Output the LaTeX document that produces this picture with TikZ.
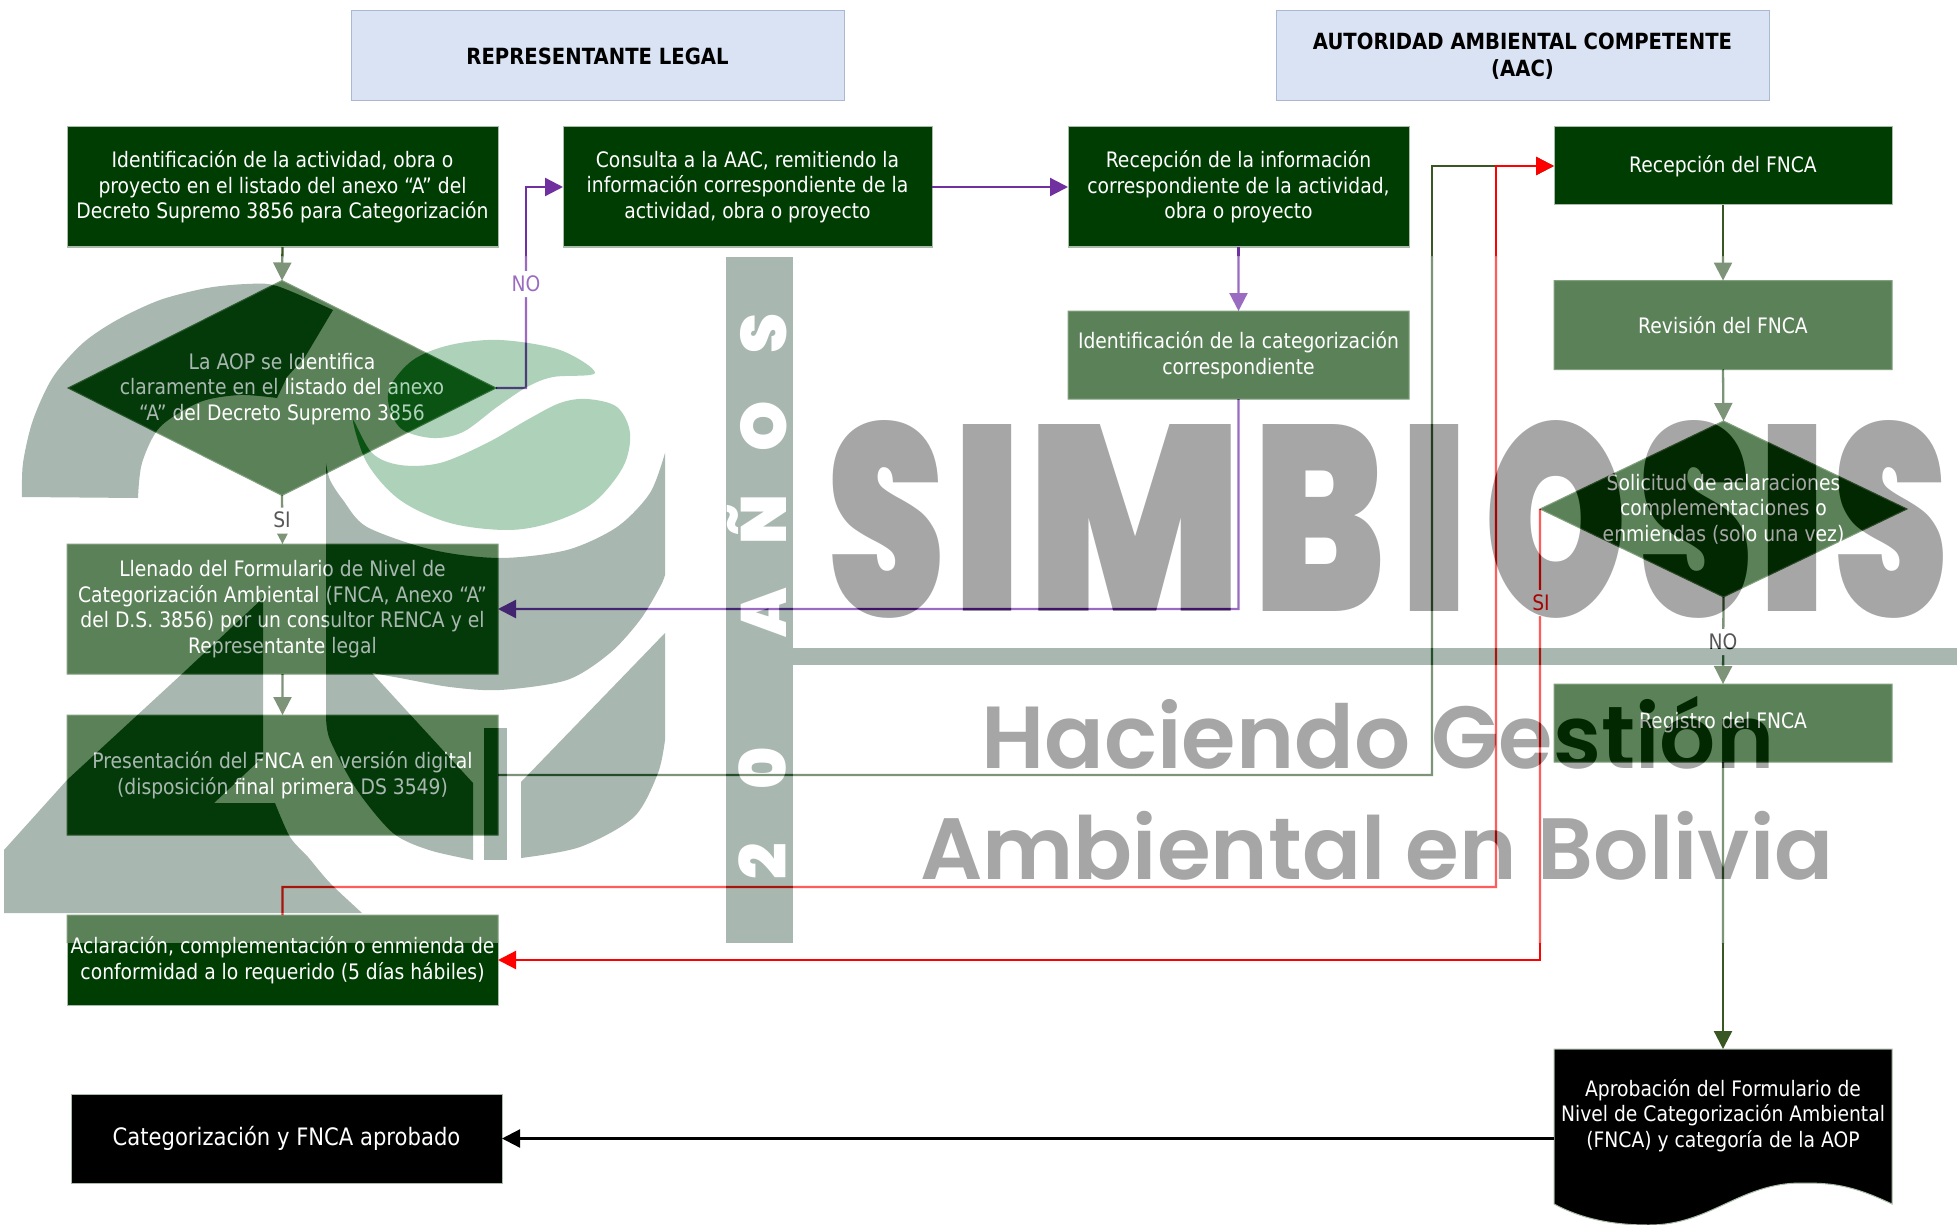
\documentclass[tikz,border=0pt]{standalone}
\usepackage{fontspec}
\usepackage{graphicx}
\usetikzlibrary{shapes.geometric,arrows.meta,calc}
\setmainfont{DejaVu Sans}[FakeStretch=0.88]
\newfontfamily\wmfont{Poppins}[UprightFont=* Black]
\newfontfamily\hgfont{Poppins}[UprightFont=* SemiBold]
\definecolor{hdrfill}{HTML}{DAE3F3}
\definecolor{hdrline}{HTML}{ABB8D2}
\definecolor{darkbox}{HTML}{003D03}
\definecolor{darkline}{HTML}{A9BBA9}
\definecolor{invbox}{HTML}{A47EA7}
\definecolor{invline}{HTML}{7C5F80}
\definecolor{logogray}{HTML}{A8B8B0}
\definecolor{leafgreen}{HTML}{AED1B9}
\definecolor{lettergray}{HTML}{A6A6A6}
\definecolor{wgreen}{HTML}{385723}
\definecolor{wpurple}{HTML}{7030A0}
\definecolor{wred}{HTML}{FF0000}
\definecolor{igreen}{HTML}{826B87}
\definecolor{ipurple}{HTML}{65943F}
\definecolor{ired}{HTML}{00A3A3}
\definecolor{ilabel}{HTML}{A8A8A8}
\tikzset{
 txt/.style={font=\fontsize{21.3}{25.6}\selectfont,align=center,inner sep=0pt,outer sep=0pt},
 hdrbox/.style={txt,fill=hdrfill,draw=hdrline,line width=1pt,text=black,font=\fontsize{22.3}{26.5}\selectfont\bfseries},
 okbox/.style={txt,fill=darkbox,draw=darkline,line width=1pt,text=white},
 washbox/.style={txt,fill=invbox,draw=invline,line width=1pt,text=black},
 washdiam/.style={washbox,diamond,aspect=2},
 wire/.style={line width=2.3pt,-{Triangle[length=18pt,width=18pt]}},
 flowlabel/.style={txt,fill=black,minimum width=30pt,minimum height=26pt},
}
\newcommand{\dtext}[2][-7pt]{\smash{\makebox[0pt]{\raisebox{#1}{\begin{tabular}{@{}c@{}}#2\end{tabular}}}}}
\newcommand{\wmL}[4]{\raisebox{#3pt}{\resizebox{#1pt}{#2pt}{#4}}}
\newcommand{\baL}[2][93pt]{\makebox[#1]{#2}}
\newenvironment{diffgroup}{\begin{scope}\special{pdf:code /myDiff gs}\begin{scope}[transparency group]}{\end{scope}\end{scope}}
% all connectors, in the colours given
\newcommand{\wires}[3]{%
 \draw[wire,draw=#1] (a.south) -- (d1.north);
 \draw[wire,draw=#1] (d1.south) -- (e.north);
 \draw[wire,draw=#1] (e.south) -- (f.north);
 \draw[wire,draw=#2] (d1.east) -| (nok) |- (b.west);
 \draw[wire,draw=#2] (b.east) -- (c.west);
 \draw[wire,draw=#2] (c.south) -- (cat.north);
 \draw[wire,draw=#2] (cat.south) |- (e.east);
 \draw[wire,draw=#1] (f.east) -| (gk) |- (d.west);
 \draw[wire,draw=#1] (d.south) -- (rev.north);
 \draw[wire,draw=#1] (rev.south) -- (d2.north);
 \draw[wire,draw=#1] (d2.south) -- (reg.north);
 \draw[wire,draw=#1] (reg.south) -- (aprob.north);
 \draw[wire,draw=#3] (g.north) |- (rk) |- (d.west);
 \draw[wire,draw=#3] (d2.west) |- (g.east);
}
\begin{document}
\begin{tikzpicture}[x=1pt,y=-1pt]
\special{pdf:put @resources << /ExtGState << /myDiff << /BM /Difference >> >> >>}
\useasboundingbox (0,0) rectangle (1957,1225);
\fill[white] (0,0) rectangle (1957,1225);
% ---------- watermark ----------
\fill[logogray] plot[smooth] coordinates {(22,497)(23,463)(33,420)(53,377)(83,343)(117,320)(160,300)(207,288)(247,284)(277,286)(333,310)} -- (305,357) -- (287,377) -- plot[smooth] coordinates {(277,398)(240,395)(200,402)(160,427)(142,463)(138,498)} -- cycle;
\fill[logogray] (4,913) -- plot[smooth] coordinates {(362,913)(330,883)(308,857)(290,837)(275,803)} -- (214,803) -- (263,757) -- (263,598) -- (183,673) -- (67,780) -- (4,850) -- cycle;
\fill[logogray] (326,463) -- plot[smooth] coordinates {(326,463)(330,480)(343,500)(367,527)(433,550)(500,558)(567,550)(617,527)(650,493)(665,453)} -- (665,575) -- plot[smooth] coordinates {(665,575)(660,587)(640,620)(610,653)(567,680)(500,690)(450,687)(400,678)(372,673)} -- (473,783) -- (473,860) -- plot[smooth] coordinates {(473,860)(429,850)(393,833)(357,790)(330,740)(326,715)} -- cycle;
\fill[logogray] (484,728) rectangle (507,860);
\fill[logogray] (521,782) -- (665,633) -- (665,740) -- plot[smooth] coordinates {(665,740)(658,773)(634,817)(580,847)(521,858)} -- cycle;
\fill[leafgreen] plot[smooth cycle,tension=.55] coordinates {(595,373)(560,350)(500,340)(450,345)(413,360)(390,387)(390,410)(403,430)(433,438)(463,432)(497,407)(527,387)(553,377)};
\fill[leafgreen] plot[smooth cycle,tension=.55] coordinates {(353,420)(372,453)(400,465)(440,463)(487,443)(527,420)(560,403)(587,399)(617,407)(630,433)(623,467)(593,503)(550,523)(507,530)(450,523)(400,500)(367,463)};
\fill[logogray] (726,257) rectangle (793,943);
\fill[logogray] (793,648) rectangle (1957,665);
\node[rotate=90,text=white,inner sep=0pt] (wmb) at (757,597.5) {\fontsize{64}{64}\wmfont\selectfont\baL{2}\baL{0}\baL[63pt]{}\baL{A}\baL{Ñ}\baL{O}\baL{S}};
\node[anchor=base west,inner sep=0pt,text=lettergray] (wma) at (827.5,611) {\wmfont\fontsize{200}{200}\selectfont
 \wmL{118}{196}{-5}{S}\hspace{6.5pt}\wmL{70}{187}{0}{I}\hspace{5.5pt}\wmL{215}{187}{0}{M}\hspace{10.5pt}\wmL{132}{187}{0}{B}\hspace{14.5pt}\wmL{70}{187}{0}{I}\hspace{14.5pt}\wmL{143}{196}{-5}{O}\hspace{11pt}\wmL{115}{196}{-5}{S}\hspace{4.5pt}\wmL{70}{187}{0}{I}\hspace{5.5pt}\wmL{115}{196}{-5}{S}};
\node[anchor=base west,inner sep=0pt,text=lettergray] (wmc) at (981,768) {\resizebox{793pt}{!}{\hgfont Haciendo Gestión}};
\node[anchor=base west,inner sep=0pt,text=lettergray] (wmd) at (920,879) {\resizebox{913pt}{!}{\hgfont Ambiental en Bolivia}};
% ---------- nodes clear of the wash ----------
\node[hdrbox,minimum width=493pt,minimum height=90pt] (h1) at (597.5,56) {REPRESENTANTE LEGAL};
\node[hdrbox,minimum width=493pt,minimum height=90pt] (h2) at (1522.5,56) {AUTORIDAD AMBIENTAL COMPETENTE\\(AAC)};
\node[okbox,minimum width=431pt,minimum height=120pt] (a) at (282.5,187) {Identificación de la actividad, obra o\\proyecto en el listado del anexo “A” del\\Decreto Supremo 3856 para Categorización};
\node[okbox,minimum width=369pt,minimum height=120pt] (b) at (747.5,187) {Consulta a la AAC, remitiendo la\\información correspondiente de la\\actividad, obra o proyecto};
\node[okbox,minimum width=341pt,minimum height=120pt] (c) at (1238.5,187) {Recepción de la información\\correspondiente de la actividad,\\obra o proyecto};
\node[okbox,minimum width=338pt,minimum height=78pt] (d) at (1723,166) {Recepción del FNCA};
\node[okbox,fill=black,minimum width=431pt,minimum height=89pt,font=\fontsize{24}{30}\selectfont] (final) at (286.5,1138.5) {Categorización y FNCA aprobado};
\fill[black,draw=darkline,line width=1pt] (1554,1049) -- (1892,1049) -- (1892,1204) .. controls (1850,1184) and (1830,1183) .. (1801,1183) .. controls (1740,1183) and (1710,1225) .. (1649,1225) .. controls (1610,1225) and (1580,1218) .. (1554,1204) -- cycle;
\node[txt,text=white,minimum width=338pt,minimum height=155pt] (aprob) at (1723,1126.5) {\dtext[4.5pt]{Aprobación del Formulario de\\Nivel de Categorización Ambiental\\(FNCA) y categoría de la AOP}};
\coordinate (nok) at (526,388);
\coordinate (gk) at (1432,775);
\coordinate (rk) at (1496,887);
% ---------- washed boxes: difference against the watermark ----------
\begin{diffgroup}
 \clip (0,256) rectangle (1957,943);
 \node[washdiam,minimum width=428pt,minimum height=215pt] (d1) at (282,388) {\dtext{La AOP se Identifica\\claramente en el listado del anexo\\“A” del Decreto Supremo 3856}};
 \node[washbox,minimum width=431pt,minimum height=130pt] (e) at (282.5,609) {Llenado del Formulario de Nivel de\\Categorización Ambiental (FNCA, Anexo “A”\\del D.S. 3856) por un consultor RENCA y el\\Representante legal};
 \node[washbox,minimum width=431pt,minimum height=120pt] (f) at (282.5,775) {Presentación del FNCA en versión digital\\(disposición final primera DS 3549)};
 \node[washbox,minimum width=341pt,minimum height=88pt] (cat) at (1238.5,355) {Identificación de la categorización\\correspondiente};
 \node[washbox,minimum width=338pt,minimum height=89pt] (rev) at (1723,325) {Revisión del FNCA};
 \node[washdiam,minimum width=367pt,minimum height=176pt] (d2) at (1723.5,509) {\dtext{Solicitud de aclaraciones\\complementaciones o\\enmiendas (solo una vez)}};
 \node[washbox,minimum width=338pt,minimum height=78pt] (reg) at (1723,723) {Registro del FNCA};
 \fill[invbox] (67,915) rectangle (498,943);
 \draw[invline,line width=1pt] (67,943) -- (67,915) -- (498,915) -- (498,943);
\end{diffgroup}
% ---------- box cut by the lower edge of the wash ----------
\fill[darkbox] (67,943) rectangle (498,1005);
\draw[darkline,line width=1pt] (67,943) -- (67,1005) -- (498,1005) -- (498,943);
\node[txt,text=white,minimum width=431pt,minimum height=90pt] (g) at (282.5,960) {Aclaración, complementación o enmienda de\\conformidad a lo requerido (5 días hábiles)};
% ---------- connectors inside the wash ----------
\begin{diffgroup}
 \clip (0,256) rectangle (1957,943);
 \wires{igreen}{ipurple}{ired}
 \node[flowlabel,text=ipurple] (lno1) at (526,284) {NO};
 \node[flowlabel,text=ilabel] (lsi1) at (282,520.5) {\raisebox{2pt}{SI}};
 \node[flowlabel,text=ired] (lsi2) at (1541,603) {SI};
 \node[flowlabel,text=ilabel] (lno2) at (1723,642) {NO};
\end{diffgroup}
% ---------- connectors outside the wash ----------
\begin{scope}[even odd rule]
 \clip (0,0) rectangle (1957,1225) (0,256) rectangle (1957,943);
 \wires{wgreen}{wpurple}{wred}
\end{scope}
\draw[wire,draw=black] (aprob.west |- final.east) -- (final.east);
\end{tikzpicture}
\end{document}
